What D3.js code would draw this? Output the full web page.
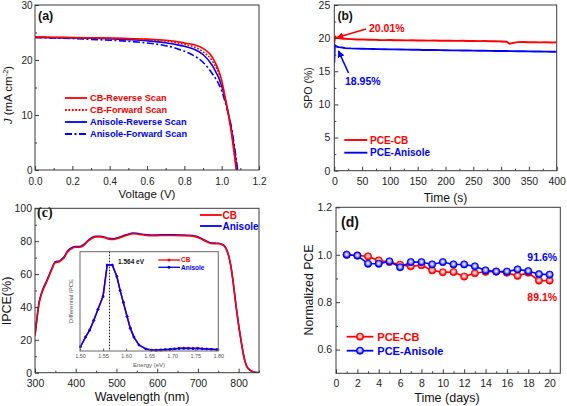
<!DOCTYPE html>
<html><head><meta charset="utf-8">
<script src="https://cdn.jsdelivr.net/npm/d3@7"></script>
<style>body{margin:0;background:#fff}svg{display:block;font-family:"Liberation Sans",Arial,sans-serif}</style>
</head><body><svg id="c" width="567" height="406"></svg>
<script>
// ---------- DATA ----------
// (a) J-V curves
const jvVoltage = [0,0.1,0.2,0.3,0.4,0.5,0.6,0.7,0.75,0.8,0.85,0.9,0.95,1.0,1.025,1.05,1.075,1.1];
const jCBReverse  = [24.2,24.15,24.1,24.05,24.0,23.9,23.8,23.6,23.4,23.1,22.8,22.1,20.5,16.3,12.1,7.3,0.9,-6];
const jCBForward  = [24.15,24.1,24.05,24.0,23.95,23.85,23.7,23.45,23.2,22.85,22.4,21.5,19.8,15.9,11.9,7.4,1.2,-6];
const jAniReverse = [24.1,24.05,24.0,23.95,23.85,23.7,23.5,23.15,22.85,22.5,22.0,21.0,19.0,15.3,11.9,7.9,2.0,-5];
const jAniForward = [24.1,24.0,23.9,23.75,23.6,23.4,23.1,22.6,22.2,21.6,20.8,19.6,17.5,14.4,11.6,8.1,2.7,-4];
const jvLegend = ["CB-Reverse Scan","CB-Forward Scan","Anisole-Reverse Scan","Anisole-Forward Scan"];

// (b) stabilized power output
const spoTime = [0,1,2,3,5,8,12,16,20,30,40,50,60,70,80,90,100,110,120,130,140,150,160,170,180,190,200,210,220,230,240,250,260,270,280,290,300,310,315,320,330,340,350,360,370,380,390,400];
const spoCB = [19.2,20.1,20.2,20.1,20.05,20.0,19.95,19.9,19.9,19.85,19.8,19.82,19.75,19.78,19.72,19.7,19.72,19.68,19.7,19.66,19.68,19.65,19.66,19.62,19.64,19.6,19.62,19.6,19.58,19.6,19.56,19.58,19.55,19.56,19.52,19.55,19.5,19.45,19.15,19.25,19.4,19.42,19.38,19.4,19.36,19.38,19.34,19.36];
const spoAnisole = [16.3,18.95,18.9,18.8,18.7,18.65,18.6,18.55,18.5,18.45,18.42,18.4,18.38,18.36,18.35,18.33,18.3,18.3,18.28,18.27,18.25,18.24,18.22,18.21,18.2,18.19,18.18,18.16,18.15,18.14,18.13,18.12,18.1,18.1,18.08,18.07,18.06,18.05,18.04,18.04,18.03,18.02,18.0,17.99,17.98,17.96,17.95,17.94];
const spoLegend = ["PCE-CB","PCE-Anisole"];

// (c) IPCE
const ipceWl = [300,305,310,315,320,330,340,350,360,365,370,380,390,400,410,420,430,440,450,460,470,480,490,500,510,520,530,540,550,560,570,580,600,620,640,660,680,700,710,720,730,740,750,760,765,770,775,780,785,790,795,800,805,810,815,820,830,840,850];
const ipceCB = [22.5,33,42,47,50.5,56,62,67,67.5,68.5,69.5,73.5,75.5,76.3,76.3,77.5,80,81.8,82.6,82.6,82.2,81.3,81,81.5,82.3,83.2,84,84.5,84.4,84,83.6,83.4,83.4,83.5,83.5,83.4,83.2,82.3,81.2,79.8,78.8,78.5,78.4,77.8,77,75,71.5,66,58,48,38,29,21,13.5,7.5,3.8,1.2,0.2,0];
const ipceAnisole = [23,33.8,42.8,47.7,51.2,56.7,62.6,67.5,67.9,68.9,70,74,76,76.7,76.7,78,80.4,82.2,83,83,82.6,81.7,81.4,81.9,82.7,83.6,84.4,84.9,84.8,84.4,84,83.8,83.8,83.9,83.9,83.8,83.6,82.7,81.5,80.1,79.1,78.8,78.7,78,77.2,75,71.5,66,58,48,38,29,21,13.5,7.5,3.8,1.2,0.2,0];
const ipceLegend = ["CB","Anisole"];
// (c) inset: differential IPCE vs energy
const diffEnergy = [1.501,1.512,1.521,1.530,1.539,1.550,1.559,1.570,1.580,1.587,1.594,1.602,1.609,1.617,1.628,1.643,1.655,1.665,1.675,1.685,1.695,1.705,1.715,1.725,1.735,1.745,1.755,1.765,1.775,1.785,1.797];
const diffCB      = [0.043,0.14,0.21,0.31,0.42,0.55,0.866,0.866,0.75,0.61,0.49,0.35,0.23,0.14,0.06,0.02,0.008,0.006,0.008,0.012,0.015,0.02,0.028,0.03,0.03,0.025,0.03,0.022,0.02,0.018,0.012];
const diffAnisole = [0.043,0.14,0.21,0.31,0.42,0.55,0.866,0.866,0.75,0.61,0.49,0.35,0.23,0.14,0.06,0.02,0.01,0.01,0.012,0.015,0.018,0.022,0.024,0.026,0.025,0.024,0.024,0.022,0.02,0.018,0.015];
const bandgap = 1.564;

// (d) stability
const days = [1,2,3,4,5,6,7,8,9,10,11,12,13,14,15,16,17,18,19,20];
const pceCB = [1.0,0.997,0.993,0.976,0.969,0.958,0.951,0.956,0.934,0.926,0.927,0.908,0.922,0.928,0.929,0.924,0.911,0.924,0.891,0.891];
const pceAnisole = [1.0,0.996,0.962,0.962,0.972,0.947,0.969,0.969,0.959,0.969,0.959,0.959,0.951,0.934,0.929,0.929,0.938,0.931,0.918,0.916];
const stabLegend = ["PCE-CB","PCE-Anisole"];

// ---------- DRAW ----------
const RED = "#ff0000", BLUE = "#0000ff", FR = "#3a3a3a";
const svg = d3.select("#c");
const defs = svg.append("defs");

function axes(g, x, y, o) {
  const [xa, xb] = x.range(), [yb, ya] = y.range();
  const fs = o.fs || 10;
  const bot = g.append("g").attr("transform", `translate(0,${yb})`);
  if (o.xMinor) bot.append("g").call(d3.axisBottom(x).tickValues(o.xMinor).tickSize(-(o.minor||2)).tickFormat(""));
  bot.append("g").call(d3.axisBottom(x).tickValues(o.xTicks).tickSize(-(o.major||4)).tickPadding(o.xPad).tickFormat(o.xFmt));
  if (o.yTicks) {
    const lef = g.append("g").attr("transform", `translate(${xa},0)`);
    if (o.yMinor) lef.append("g").call(d3.axisLeft(y).tickValues(o.yMinor).tickSize(-(o.minor||2)).tickFormat(""));
    lef.append("g").call(d3.axisLeft(y).tickValues(o.yTicks).tickSize(-(o.major||4)).tickPadding(o.yPad).tickFormat(o.yFmt));
  }
  g.selectAll(".domain").remove();
  g.selectAll(".tick line").attr("stroke", o.tickColor || FR).attr("stroke-width", 1);
  g.selectAll(".tick text").attr("font-size", fs).attr("fill", o.textColor || "#222")
    .attr("font-family", '"Liberation Sans",Arial,sans-serif');
  g.append("rect").attr("x", xa).attr("y", ya).attr("width", xb - xa).attr("height", yb - ya)
    .attr("fill", "none").attr("stroke", o.frameColor || FR).attr("stroke-width", o.frameW || 1);
}
function clip(id, x, y) {
  const [xa, xb] = x.range(), [yb, ya] = y.range();
  defs.append("clipPath").attr("id", id).append("rect")
    .attr("x", xa).attr("y", ya).attr("width", xb - xa).attr("height", yb - ya);
  return `url(#${id})`;
}
const rng = (a, b, s) => d3.range(a, b + s / 2, s).map(v => +v.toFixed(4));

// ===== (a) =====
{
  const x = d3.scaleLinear().domain([0, 1.2]).range([35, 259]);
  const y = d3.scaleLinear().domain([0, 30]).range([170, 5]);
  const g = svg.append("g");
  const cp = clip("ca", x, y);
  const line = arr => d3.line().x((d, i) => x(jvVoltage[i])).y(d => y(d)).curve(d3.curveMonotoneX)(arr);
  const series = [
    {d: jAniForward, c: BLUE, dash: "7,2.5,2,2.5", w: 1.6},
    {d: jAniReverse, c: BLUE, dash: null, w: 1.6},
    {d: jCBForward, c: RED, dash: "1.8,1.6", w: 1.6},
    {d: jCBReverse, c: RED, dash: null, w: 1.6}
  ];
  series.forEach(s => g.append("path").attr("d", line(s.d)).attr("fill", "none").attr("stroke", s.c)
    .attr("stroke-width", s.w).attr("stroke-dasharray", s.dash).attr("clip-path", cp));
  axes(g, x, y, {xTicks: rng(0, 1.2, 0.2), xMinor: rng(0.1, 1.1, 0.2), xFmt: d3.format(".1f"), xPad: 7.5,
    yTicks: [0, 10, 20, 30], yMinor: [5, 15, 25], yFmt: d3.format("d"), yPad: 2.5, fs: 10});
  const lg = [{c: RED, dash: null}, {c: RED, dash: "1.8,1.6"}, {c: BLUE, dash: null}, {c: BLUE, dash: "7,2.5,2,2.5"}];
  jvLegend.forEach((t, i) => {
    const yy = 98 + i * 12;
    g.append("line").attr("x1", 65).attr("x2", 87).attr("y1", yy).attr("y2", yy).attr("stroke", lg[i].c)
      .attr("stroke-width", 1.8).attr("stroke-dasharray", lg[i].dash);
    g.append("text").attr("x", 90).attr("y", yy).attr("dy", "0.35em").attr("font-size", 9.2).attr("font-weight", "bold")
      .attr("fill", lg[i].c).text(t);
  });
  g.append("text").attr("x", 38).attr("y", 19.5).attr("font-size", 12.5).attr("font-weight", "bold").attr("fill", "#111").text("(a)");
  g.append("text").attr("x", 147).attr("y", 198).attr("text-anchor", "middle").attr("font-size", 11.5).attr("fill", "#111").text("Voltage (V)");
  const yl = g.append("text").attr("transform", "translate(12,95) rotate(-90)").attr("text-anchor", "middle").attr("font-size", 11.5).attr("fill", "#111");
  yl.append("tspan").attr("font-style", "italic").text("J");
  yl.append("tspan").text(" (mA cm");
  yl.append("tspan").attr("font-size", 7.5).attr("dy", -4.5).text("-2");
  yl.append("tspan").attr("dy", 4.5).text(")");
}

// ===== (b) =====
{
  const x = d3.scaleLinear().domain([0, 400]).range([334.3, 556.7]);
  const y = d3.scaleLinear().domain([0, 25]).range([170.7, 5]);
  const g = svg.append("g");
  const cp = clip("cb", x, y);
  const line = arr => d3.line().x((d, i) => x(spoTime[i])).y(d => y(d))(arr);
  g.append("path").attr("d", line(spoCB)).attr("fill", "none").attr("stroke", RED).attr("stroke-width", 1.9).attr("clip-path", cp);
  g.append("path").attr("d", line(spoAnisole)).attr("fill", "none").attr("stroke", BLUE).attr("stroke-width", 1.9).attr("clip-path", cp);
  axes(g, x, y, {xTicks: rng(0, 400, 50), xMinor: rng(25, 375, 50), xFmt: d3.format("d"), xPad: 7,
    yTicks: rng(0, 25, 5), yMinor: rng(2.5, 22.5, 5), yFmt: d3.format("d"), yPad: 4, fs: 10.5});
  const mk = (id, c) => defs.append("marker").attr("id", id).attr("viewBox", "0 0 10 10").attr("refX", 9).attr("refY", 5)
    .attr("markerWidth", 7).attr("markerHeight", 7).attr("markerUnits", "userSpaceOnUse").attr("orient", "auto")
    .append("path").attr("d", "M0,0L10,5L0,10z").attr("fill", c);
  mk("arR", RED); mk("arB", BLUE);
  g.append("line").attr("x1", 366).attr("y1", 29).attr("x2", 337).attr("y2", 37.5).attr("stroke", RED).attr("stroke-width", 1.6).attr("marker-end", "url(#arR)");
  g.append("line").attr("x1", 348.5).attr("y1", 73).attr("x2", 338.5).attr("y2", 51).attr("stroke", BLUE).attr("stroke-width", 1.6).attr("marker-end", "url(#arB)");
  g.append("text").attr("x", 369).attr("y", 28).attr("dy", "0.35em").attr("font-size", 10.5).attr("font-weight", "bold").attr("fill", RED).text("20.01%");
  g.append("text").attr("x", 345).attr("y", 81).attr("dy", "0.35em").attr("font-size", 10.5).attr("font-weight", "bold").attr("fill", BLUE).text("18.95%");
  [RED, BLUE].forEach((c, i) => {
    const yy = 140 + i * 12.7;
    g.append("line").attr("x1", 344.3).attr("x2", 367.3).attr("y1", yy).attr("y2", yy).attr("stroke", c).attr("stroke-width", 1.9);
    g.append("text").attr("x", 370).attr("y", yy).attr("dy", "0.35em").attr("font-size", 10).attr("font-weight", "bold").attr("fill", c).text(spoLegend[i]);
  });
  g.append("text").attr("x", 337.5).attr("y", 19.5).attr("font-size", 12).attr("font-weight", "bold").attr("fill", "#111").text("(b)");
  g.append("text").attr("x", 445.5).attr("y", 202).attr("text-anchor", "middle").attr("font-size", 12).attr("fill", "#111").text("Time (s)");
  g.append("text").attr("transform", "translate(311.5,88) rotate(-90)").attr("text-anchor", "middle").attr("font-size", 10.5).attr("fill", "#111").text("SPO (%)");
}

// ===== (c) =====
{
  const x = d3.scaleLinear().domain([300, 850]).range([35, 259]);
  const y = d3.scaleLinear().domain([0, 100]).range([372.7, 208.3]);
  const g = svg.append("g");
  const cp = clip("cc", x, y);
  const line = arr => d3.line().x((d, i) => x(ipceWl[i])).y(d => y(d)).curve(d3.curveMonotoneX)(arr);
  g.append("path").attr("d", line(ipceAnisole)).attr("fill", "none").attr("stroke", BLUE).attr("stroke-width", 1.6).attr("clip-path", cp);
  g.append("path").attr("d", line(ipceCB)).attr("fill", "none").attr("stroke", RED).attr("stroke-width", 1.6).attr("clip-path", cp);
  axes(g, x, y, {xTicks: rng(300, 800, 100), xMinor: rng(350, 850, 100), xFmt: d3.format("d"), xPad: 7,
    yTicks: rng(0, 100, 20), yMinor: rng(10, 90, 20), yFmt: d3.format("d"), yPad: 3, fs: 10.5});
  [RED, BLUE].forEach((c, i) => {
    const yy = 215 + i * 11;
    g.append("line").attr("x1", 200).attr("x2", 221.7).attr("y1", yy).attr("y2", yy).attr("stroke", c).attr("stroke-width", 1.8);
    g.append("text").attr("x", 222.5).attr("y", yy).attr("dy", "0.35em").attr("font-size", 10).attr("font-weight", "bold").attr("fill", c).text(ipceLegend[i]);
  });
  g.append("text").attr("x", 37).attr("y", 217).attr("font-size", 14).attr("font-weight", "bold")
    .attr("font-family", '"Liberation Serif","Times New Roman",serif').attr("fill", "#111").text("(c)");
  g.append("text").attr("x", 142).attr("y", 401).attr("text-anchor", "middle").attr("font-size", 12.5).attr("fill", "#111").text("Wavelength (nm)");
  g.append("text").attr("transform", "translate(11,301) rotate(-90)").attr("text-anchor", "middle").attr("font-size", 12.5).attr("fill", "#111").text("IPCE(%)");

  const xi = d3.scaleLinear().domain([1.5, 1.8]).range([80, 218.3]);
  const yi = d3.scaleLinear().domain([0, 1]).range([351, 251.7]);
  const gi = g.append("g");
  gi.append("rect").attr("x", 80).attr("y", 251.7).attr("width", 138.3).attr("height", 99.3).attr("fill", "#fff");
  const li = arr => d3.line().x((d, i) => xi(diffEnergy[i])).y(d => yi(d))(arr);
  gi.append("line").attr("x1", xi(bandgap)).attr("x2", xi(bandgap)).attr("y1", 251.7).attr("y2", 351)
    .attr("stroke", "#111").attr("stroke-width", 1).attr("stroke-dasharray", "1.5,1.5");
  [[diffCB, RED], [diffAnisole, BLUE]].forEach(([arr, c]) => {
    gi.append("path").attr("d", li(arr)).attr("fill", "none").attr("stroke", c).attr("stroke-width", 1.5);
    gi.selectAll(null).data(arr).enter().append("circle").attr("cx", (d, i) => xi(diffEnergy[i])).attr("cy", d => yi(d))
      .attr("r", 1.3).attr("fill", c);
  });
  axes(gi, xi, yi, {xTicks: rng(1.5, 1.8, 0.05), xFmt: d3.format(".2f"), xPad: 3.5, major: 2.5, fs: 5.5,
    frameColor: "#666", tickColor: "#666", textColor: "#555"});
  gi.append("text").attr("x", 149).attr("y", 367).attr("text-anchor", "middle").attr("font-size", 6).attr("fill", "#555").text("Energy (eV)");
  gi.append("text").attr("transform", "translate(73,301) rotate(-90)").attr("text-anchor", "middle").attr("font-size", 6).attr("fill", "#555").text("Differential IPCE");
  gi.append("text").attr("x", 118).attr("y", 262).attr("dy", "0.35em").attr("font-size", 6.5).attr("font-weight", "bold").attr("fill", "#111").text(bandgap.toFixed(3) + " eV");
  [RED, BLUE].forEach((c, i) => {
    const yy = 260 + i * 7.3;
    gi.append("line").attr("x1", 158.3).attr("x2", 180).attr("y1", yy).attr("y2", yy).attr("stroke", c).attr("stroke-width", 1.3);
    gi.append("circle").attr("cx", 169).attr("cy", yy).attr("r", 1.5).attr("fill", c);
    gi.append("text").attr("x", 181).attr("y", yy).attr("dy", "0.35em").attr("font-size", 6.5).attr("font-weight", "bold").attr("fill", c).text(ipceLegend[i]);
  });
}

// ===== (d) =====
{
  const x = d3.scaleLinear().domain([0, 21]).range([336, 560.3]);
  const y = d3.scaleLinear().domain([0.5, 1.2]).range([373.3, 207.3]);
  const g = svg.append("g");
  const grad = (id, c) => {
    const rg = defs.append("radialGradient").attr("id", id).attr("cx", "0.5").attr("cy", "0.45").attr("r", "0.55");
    rg.append("stop").attr("offset", "0").attr("stop-color", "#ffffff");
    rg.append("stop").attr("offset", "0.45").attr("stop-color", c === RED ? "#ff9a9a" : "#9a9aff");
    rg.append("stop").attr("offset", "0.8").attr("stop-color", c);
  };
  grad("gR", RED); grad("gB", BLUE);
  const line = arr => d3.line().x((d, i) => x(days[i])).y(d => y(d))(arr);
  axes(g, x, y, {xTicks: rng(0, 20, 2), xMinor: rng(1, 19, 2), xFmt: d3.format("d"), xPad: 6.5,
    yTicks: [0.6, 0.8, 1.0, 1.2], yMinor: [0.7, 0.9, 1.1], yFmt: d3.format(".1f"), yPad: 4, fs: 10.5});
  [[pceCB, RED, "gR"], [pceAnisole, BLUE, "gB"]].forEach(([arr, c, gid]) => {
    g.append("path").attr("d", line(arr)).attr("fill", "none").attr("stroke", c).attr("stroke-width", 1.6);
    g.selectAll(null).data(arr).enter().append("circle").attr("cx", (d, i) => x(days[i])).attr("cy", d => y(d))
      .attr("r", 3.6).attr("fill", `url(#${gid})`).attr("stroke", c).attr("stroke-width", 0.8);
  });
  g.append("text").attr("x", 527.3).attr("y", 257).attr("dy", "0.35em").attr("font-size", 10.5).attr("font-weight", "bold").attr("fill", BLUE).text("91.6%");
  g.append("text").attr("x", 527.3).attr("y", 297).attr("dy", "0.35em").attr("font-size", 10.5).attr("font-weight", "bold").attr("fill", RED).text("89.1%");
  [[RED, "gR"], [BLUE, "gB"]].forEach(([c, gid], i) => {
    const yy = 336.7 + i * 14;
    g.append("line").attr("x1", 346.7).attr("x2", 373.3).attr("y1", yy).attr("y2", yy).attr("stroke", c).attr("stroke-width", 1.8);
    g.append("circle").attr("cx", 360).attr("cy", yy).attr("r", 3.6).attr("fill", `url(#${gid})`).attr("stroke", c).attr("stroke-width", 0.8);
    g.append("text").attr("x", 377.3).attr("y", yy).attr("dy", "0.35em").attr("font-size", 11).attr("font-weight", "bold").attr("fill", c).text(stabLegend[i]);
  });
  g.append("text").attr("x", 341).attr("y", 227).attr("font-size", 14).attr("font-weight", "bold").attr("fill", "#111").text("(d)");
  g.append("text").attr("x", 447).attr("y", 401.5).attr("text-anchor", "middle").attr("font-size", 12.5).attr("fill", "#111").text("Time (days)");
  g.append("text").attr("transform", "translate(312.5,290) rotate(-90)").attr("text-anchor", "middle").attr("font-size", 12.3).attr("fill", "#111").text("Normalized PCE");
}
</script>
</body></html>
